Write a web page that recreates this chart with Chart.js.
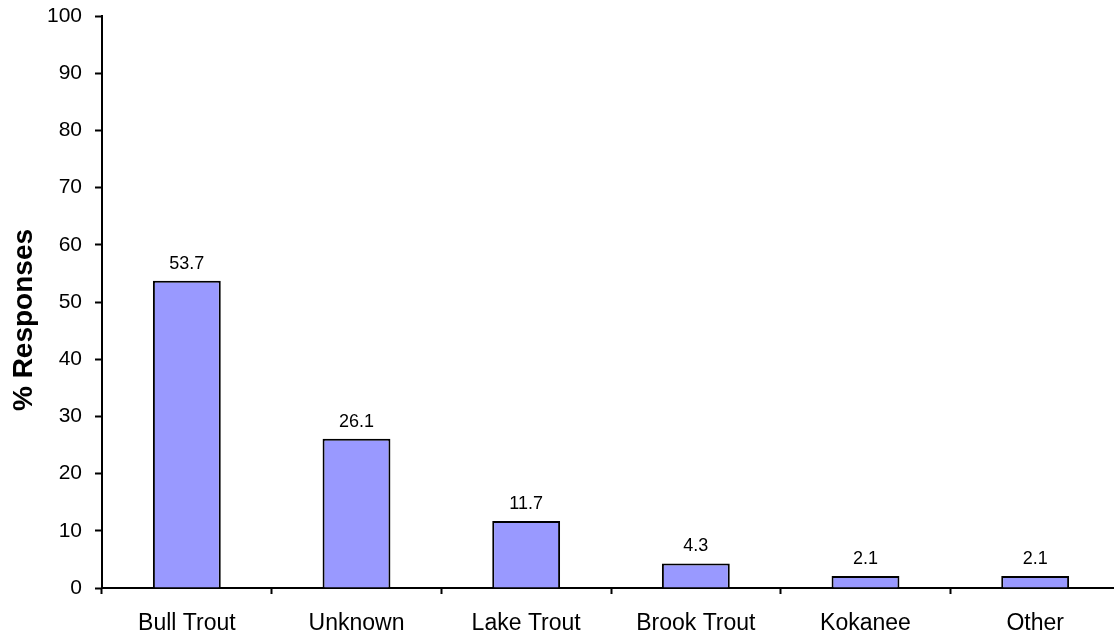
<!DOCTYPE html>
<html>
<head>
<meta charset="utf-8">
<script src="https://cdn.jsdelivr.net/npm/chart.js@4/dist/chart.umd.min.js"></script>
<style>
  html, body { margin: 0; padding: 0; background: #fff; overflow: hidden; }
  #wrap { width: 1124px; height: 641px; position: relative; }
</style>
</head>
<body>
<div id="wrap"><canvas id="chart"></canvas></div>
<script>
const categories = ["Bull Trout", "Unknown", "Lake Trout", "Brook Trout", "Kokanee", "Other"];
const responses = [53.7, 26.1, 11.7, 4.3, 2.1, 2.1];
const yTitle = '% Responses';
const yMin = 0;
const yMax = 100;
const yStep = 10;

const FONT = '"Liberation Sans", Arial, sans-serif';

// value labels over each bar
const barLabels = {
    id: 'barLabels',
    afterDatasetsDraw(chart) {
        const ctx = chart.ctx;
        const meta = chart.getDatasetMeta(0);
        ctx.save();
        ctx.font = '18px ' + FONT;
        ctx.fillStyle = '#000';
        ctx.textAlign = 'center';
        ctx.textBaseline = 'alphabetic';
        meta.data.forEach((bar, i) => {
            ctx.fillText(responses[i].toFixed(1), bar.x, bar.y - 12);
        });
        ctx.restore();
    }
};

// y axis title, sits a bit below the middle of the axis like the original
const axisTitle = {
    id: 'axisTitle',
    afterDraw(chart) {
        const ctx = chart.ctx;
        const area = chart.chartArea;
        ctx.save();
        ctx.translate(24, (area.top + area.bottom) / 2 + 18);
        ctx.rotate(-Math.PI / 2);
        ctx.font = 'bold 28px ' + FONT;
        ctx.fillStyle = '#000';
        ctx.textAlign = 'center';
        ctx.textBaseline = 'middle';
        ctx.fillText(yTitle, 0, 0);
        ctx.restore();
    }
};

const ctx = document.getElementById('chart').getContext('2d');
const chart = new Chart(ctx, {
    type: 'bar',
    data: {
        labels: categories,
        datasets: [{
            data: responses,
            backgroundColor: '#9999FF',
            borderColor: '#000',
            borderWidth: 2,
            barPercentage: 0.8,
            categoryPercentage: 0.5
        }]
    },
    options: {
        responsive: true,
        maintainAspectRatio: false,
        animation: false,
        layout: { padding: { top: 16, right: 4, left: 0, bottom: 0 } },
        plugins: {
            legend: { display: false },
            tooltip: { enabled: false }
        },
        scales: {
            x: {
                offset: true,
                grid: {
                    offset: true,
                    drawOnChartArea: false,
                    tickLength: 6,
                    tickWidth: 2,
                    tickColor: '#000'
                },
                border: { color: '#000', width: 2 },
                ticks: {
                    color: '#000',
                    padding: 16,
                    maxRotation: 0,
                    font: { family: FONT, size: 23 }
                },
                afterFit(scale) { scale.height = 641 - 588; }
            },
            y: {
                min: yMin,
                max: yMax,
                grid: {
                    drawOnChartArea: false,
                    tickLength: 7,
                    tickWidth: 2,
                    tickColor: '#000'
                },
                border: { color: '#000', width: 2 },
                ticks: {
                    stepSize: yStep,
                    color: '#000',
                    padding: 13,
                    font: { family: FONT, size: 21 }
                },
                afterFit(scale) {
                    scale.width = 102;
                    scale.paddingTop = 0;
                    scale.paddingBottom = 0;
                }
            }
        }
    },
    plugins: [barLabels, axisTitle]
});
</script>
</body>
</html>
